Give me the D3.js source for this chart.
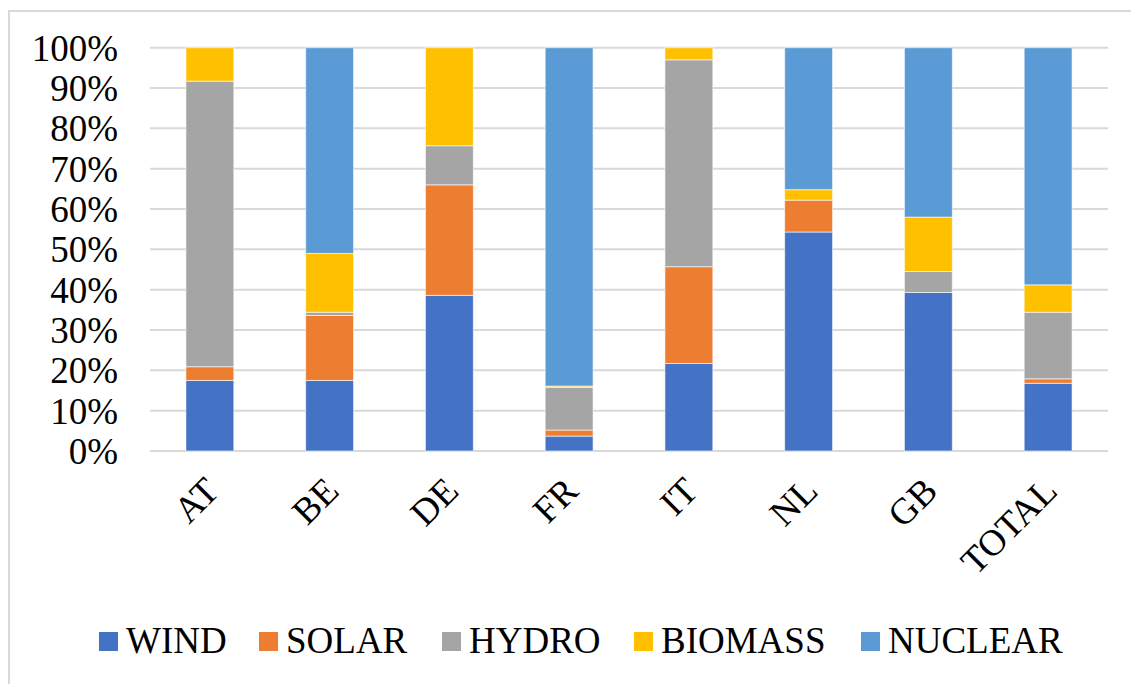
<!DOCTYPE html>
<html>
<head>
<meta charset="utf-8">
<script src="https://cdn.jsdelivr.net/npm/d3@7/dist/d3.min.js"></script>
<style>
  html, body { margin: 0; padding: 0; background: #fff; }
  svg { display: block; }
  text { font-family: "Liberation Serif", "Times New Roman", serif; fill: #000; }
</style>
</head>
<body>
<svg id="chart" width="1131" height="684"></svg>
<script>
// Share of generation by source, in percent of each country's total
const countries = ["AT", "BE", "DE", "FR", "IT", "NL", "GB", "TOTAL"];
const sources = ["WIND", "SOLAR", "HYDRO", "BIOMASS", "NUCLEAR"];
const colors = ["#4472C4", "#ED7D31", "#A5A5A5", "#FFC000", "#5B9BD5"];

const wind    = [17.5, 17.5, 38.6,  3.7, 21.7, 54.3, 39.3, 16.8];
const solar   = [ 3.4, 16.1, 27.4,  1.5, 24.0,  7.9,  0.0,  1.1];
const hydro   = [70.8,  0.8,  9.7, 10.6, 51.3,  0.0,  5.2, 16.5];
const biomass = [ 8.3, 14.6, 24.3,  0.3,  3.0,  2.6, 13.5,  6.8];
const nuclear = [ 0.0, 51.0,  0.0, 83.9,  0.0, 35.2, 42.0, 58.8];

const yTicks = [0, 10, 20, 30, 40, 50, 60, 70, 80, 90, 100];

const seriesValues = [wind, solar, hydro, biomass, nuclear];
const rows = countries.map((c, i) => {
  const r = { country: c };
  sources.forEach((s, k) => { r[s] = seriesValues[k][i]; });
  return r;
});

const svg = d3.select("#chart");

// outer chart frame
svg.append("rect")
  .attr("x", 9).attr("y", 11)
  .attr("width", 1140).attr("height", 700)
  .attr("fill", "none")
  .attr("stroke", "#d9d9d9")
  .attr("stroke-width", 2);

const plot = { left: 150, right: 1108, top: 47.7, bottom: 451 };

const x = d3.scaleBand()
  .domain(countries)
  .range([plot.left, plot.right])
  .paddingInner(0.6)
  .paddingOuter(0.3);

const y = d3.scaleLinear()
  .domain([0, 100])
  .range([plot.bottom, plot.top]);

// horizontal gridlines
svg.append("g")
  .selectAll("line")
  .data(yTicks)
  .join("line")
  .attr("x1", plot.left).attr("x2", plot.right)
  .attr("y1", d => y(d)).attr("y2", d => y(d))
  .attr("stroke", "#d9d9d9")
  .attr("stroke-width", 2);

// y axis labels
const yAxis = d3.axisLeft(y)
  .tickValues(yTicks)
  .tickFormat(d => d + "%")
  .tickSize(0)
  .tickPadding(0);
const yg = svg.append("g")
  .attr("transform", `translate(118,0)`)
  .call(yAxis);
yg.select(".domain").remove();
yg.selectAll("text")
  .attr("font-family", "Liberation Serif, serif")
  .attr("font-size", 37)
  .attr("dy", "0.34em")
  .attr("fill", "#000");

// stacked bars
const stack = d3.stack().keys(sources)(rows);
svg.append("g")
  .selectAll("g")
  .data(stack)
  .join("g")
  .attr("fill", (d, i) => colors[i])
  .selectAll("rect")
  .data(d => d.filter(p => p[1] - p[0] > 0))
  .join("rect")
  .attr("x", d => x(d.data.country))
  .attr("width", x.bandwidth())
  .attr("y", d => y(d[1]))
  .attr("height", d => y(d[0]) - y(d[1]))
  .attr("stroke", "rgba(255,255,255,0.6)")
  .attr("stroke-width", 1);

// x axis labels, rotated
const xAxis = d3.axisBottom(x).tickSize(0).tickPadding(0);
const xg = svg.append("g")
  .attr("transform", `translate(0,${plot.bottom})`)
  .call(xAxis);
xg.select(".domain").remove();
xg.selectAll("text")
  .attr("font-family", "Liberation Serif, serif")
  .attr("font-size", 37)
  .attr("fill", "#000")
  .attr("text-anchor", "end")
  .attr("dy", null)
  .attr("y", 0)
  .attr("transform", "translate(11,42) rotate(-45)");

// legend
const legendX = [99, 259, 442, 634, 861];
const legend = svg.append("g")
  .selectAll("g")
  .data(sources)
  .join("g")
  .attr("transform", (d, i) => `translate(${legendX[i]},632)`);
legend.append("rect")
  .attr("width", 19).attr("height", 19)
  .attr("fill", (d, i) => colors[i]);
legend.append("text")
  .attr("x", 27)
  .attr("y", 21)
  .attr("font-size", 37)
  .text(d => d);
</script>
</body>
</html>
